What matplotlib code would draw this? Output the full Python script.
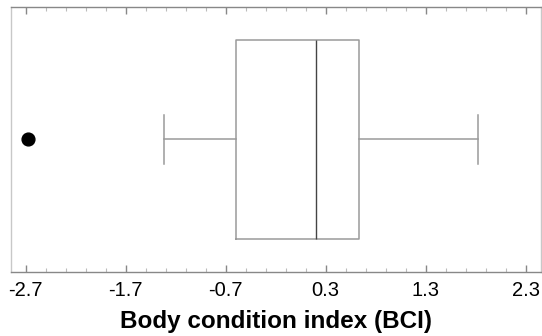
import matplotlib
matplotlib.use("Agg")
import matplotlib.pyplot as plt
from matplotlib.ticker import FixedLocator
import numpy as np

plt.rcParams['font.family'] = ['Liberation Sans', 'DejaVu Sans']

# Box-plot summary values
whisker_low = -1.32
q1 = -0.60
median = 0.20
q3 = 0.63
whisker_high = 1.82
outliers = [-2.68]
tick_values = [-2.7, -1.7, -0.7, 0.3, 1.3, 2.3]
tick_labels = ["-2.7", "-1.7", "-0.7", "0.3", "1.3", "2.3"]
xlabel = "Body condition index (BCI)"

fig = plt.figure(figsize=(5.42, 3.36), dpi=100)
ax = fig.add_axes([0.0203, 0.1914, 0.9773, 0.7878])

stats = [dict(whislo=whisker_low, q1=q1, med=median, q3=q3, whishi=whisker_high,
              fliers=outliers, label="")]
grey = "#9a9a9a"
ax.bxp(stats, positions=[1], widths=0.75, vert=False, showfliers=True,
       boxprops=dict(color=grey, linewidth=1.1),
       whiskerprops=dict(color=grey, linewidth=1.1),
       capprops=dict(color=grey, linewidth=1.1),
       medianprops=dict(color="#444444", linewidth=1.0),
       flierprops=dict(marker='o', markerfacecolor='black', markeredgecolor='black',
                       markersize=9.2),
       capwidths=0.185)

ax.set_ylim(0.5, 1.5)
ax.set_xlim(-2.847, 2.45)
ax.xaxis.set_major_locator(FixedLocator(tick_values))
ax.set_xticklabels(tick_labels)
ax.xaxis.set_minor_locator(FixedLocator(np.round(np.arange(-2.7, 2.35, 0.2), 2)))
ax.set_yticks([])
ax.tick_params(axis='x', which='major', direction='in', top=True, bottom=True,
               length=5, width=1, color="#888888", labelsize=14.5, pad=7)
ax.tick_params(axis='x', which='minor', direction='in', top=True, bottom=True,
               length=3, width=0.8, color="#bbbbbb")
for s in ax.spines.values():
    s.set_color("#c8c8c8")
    s.set_linewidth(1)
ax.spines['top'].set_color("#888888")
ax.spines['bottom'].set_color("#888888")

ax.set_xlabel(xlabel, fontsize=17.5, fontweight='bold', labelpad=7)

fig.savefig("out.png", dpi=100)
